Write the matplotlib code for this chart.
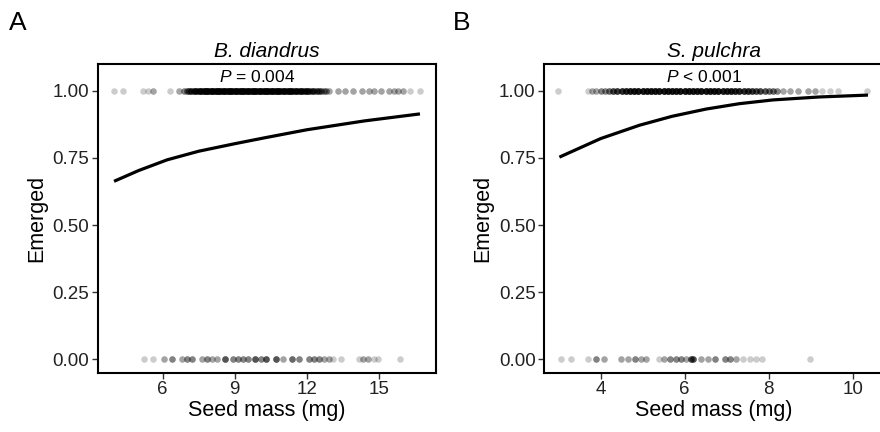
import numpy as np
import matplotlib
matplotlib.use('Agg')
import matplotlib.pyplot as plt

plt.rcParams['font.family'] = ['Liberation Sans', 'DejaVu Sans']
plt.rcParams['mathtext.fontset'] = 'custom'
plt.rcParams['mathtext.it'] = 'Liberation Sans:italic'
plt.rcParams['mathtext.rm'] = 'Liberation Sans'

# B. diandrus : seed mass of emerged (1) and not emerged (0) seeds, with counts
bd_top_x = [3.97, 4.34, 5.2, 5.4, 5.6, 6.3, 6.7,
            6.9, 7.0, 7.1, 7.2, 7.3, 7.4, 7.5, 7.6, 7.7, 7.8, 7.9,
            8.0, 8.1, 8.2, 8.3, 8.4, 8.5, 8.6, 8.7, 8.8, 8.9,
            9.0, 9.1, 9.2, 9.3, 9.4, 9.5, 9.6, 9.7, 9.8, 9.9,
            10.0, 10.1, 10.2, 10.3, 10.4, 10.5, 10.6, 10.7, 10.8, 10.9,
            11.0, 11.1, 11.2, 11.3, 11.4, 11.5, 11.6, 11.7, 11.8, 11.9,
            12.0, 12.1, 12.2, 12.3, 12.4, 12.5, 12.6, 12.7, 12.8, 12.9,
            13.3, 13.6, 13.9, 14.3, 14.6, 14.8, 15.1, 15.4, 15.6, 15.8,
            16.0, 16.3, 16.7]
bd_top_n = [1, 1, 1, 1, 2, 1, 2,
            3, 4, 5, 6, 7, 8, 8, 9, 9, 10, 10,
            10, 10, 10, 10, 10, 10, 10, 10, 10, 10,
            10, 10, 10, 10, 10, 10, 10, 10, 10, 10,
            10, 10, 10, 10, 10, 10, 10, 10, 10, 9,
            9, 9, 9, 9, 9, 8, 8, 8, 8, 7,
            7, 6, 6, 5, 5, 4, 4, 3, 3, 2,
            2, 2, 2, 2, 2, 2, 2, 2, 2, 2,
            2, 1, 1]
bd_bot_x = [5.23, 5.62, 6.05, 6.4, 6.81, 7.02, 7.22, 7.63, 7.84, 8.04, 8.25,
            8.59, 8.93, 9.14, 9.35, 9.55, 9.83, 10.1, 10.3, 10.72, 11.0, 11.4,
            11.68, 12.1, 12.3, 12.5, 12.7, 12.9, 13.1, 13.4, 14.15, 14.35,
            14.56, 14.77, 14.97, 15.86]
bd_bot_n = [1, 1, 2, 3, 2, 3, 3, 2, 3, 2, 2,
            5, 3, 3, 3, 3, 5, 3, 5, 5, 2, 4,
            3, 3, 3, 3, 2, 2, 1, 1, 1, 2,
            2, 1, 1, 1]
bd_curve_x = [3.98, 5.0, 6.19, 7.5, 9.0, 10.3, 12.0, 14.4, 16.7]
bd_curve_y = [0.663, 0.703, 0.743, 0.775, 0.803, 0.826, 0.855, 0.888, 0.914]

# S. pulchra
sp_top_x = [2.98, 3.7, 3.8, 3.9, 4.0, 4.1, 4.2, 4.3, 4.4, 4.5, 4.6, 4.7,
            4.8, 4.9, 5.0, 5.1, 5.2, 5.3, 5.4, 5.5, 5.6, 5.7, 5.8, 5.9,
            6.0, 6.1, 6.2, 6.3, 6.4, 6.5, 6.6, 6.7, 6.8, 6.9, 7.0, 7.1,
            7.2, 7.3, 7.4, 7.5, 7.6, 7.7, 7.8, 7.9, 8.0, 8.1, 8.2,
            8.33, 8.5, 8.7, 8.93, 9.1, 9.26, 9.45, 9.64, 10.33]
sp_top_n = [1, 1, 2, 2, 3, 3, 4, 6, 7, 8, 9, 10,
            11, 11, 11, 11, 11, 11, 11, 11, 11, 11, 11, 11,
            11, 11, 11, 11, 11, 11, 11, 11, 11, 10, 10, 10,
            9, 9, 8, 8, 7, 6, 6, 5, 4, 4, 3,
            2, 2, 2, 2, 2, 1, 1, 1, 1]
sp_bot_x = [3.05, 3.29, 3.7, 3.9, 4.08, 4.49, 4.65, 4.81, 4.97, 5.09, 5.4,
            5.52, 5.64, 5.8, 5.92, 6.04, 6.16, 6.2, 6.4, 6.55, 6.71, 6.95,
            7.07, 7.23, 7.39, 7.55, 7.7, 7.83, 8.98]
sp_bot_n = [1, 1, 1, 3, 2, 2, 2, 3, 2, 2, 1,
            2, 3, 3, 3, 2, 5, 5, 2, 2, 3, 3,
            3, 2, 1, 1, 1, 1, 1]
sp_curve_x = [3.02, 4.0, 4.93, 5.7, 6.51, 7.3, 8.1, 9.2, 10.36]
sp_curve_y = [0.753, 0.822, 0.872, 0.905, 0.932, 0.952, 0.966, 0.977, 0.984]

panels = [
    dict(letter='A', title='B. diandrus', ptxt='$P$ = 0.004',
         top=(bd_top_x, bd_top_n), bot=(bd_bot_x, bd_bot_n),
         curve=(bd_curve_x, bd_curve_y), xlim=(3.3, 17.35),
         xticks=[6, 9, 12, 15], pos=[0.111, 0.137, 0.384, 0.715], lx=0.010),
    dict(letter='B', title='S. pulchra', ptxt='$P$ < 0.001',
         top=(sp_top_x, sp_top_n), bot=(sp_bot_x, sp_bot_n),
         curve=(sp_curve_x, sp_curve_y), xlim=(2.65, 10.73),
         xticks=[4, 6, 8, 10], pos=[0.618, 0.137, 0.386, 0.715], lx=0.515),
]

fig = plt.figure(figsize=(8.8, 4.32), dpi=100)

for p in panels:
    ax = fig.add_axes(p['pos'])
    for (xs, ns), yv in [(p['top'], 1.0), (p['bot'], 0.0)]:
        xx = np.repeat(xs, ns)
        ax.scatter(xx, np.full(len(xx), yv), s=22, color='black',
                   alpha=0.2, linewidths=0, zorder=2)
    ax.plot(p['curve'][0], p['curve'][1], color='black', lw=2.3,
            solid_capstyle='butt', zorder=3)
    ax.set_xlim(*p['xlim'])
    ax.set_ylim(-0.05, 1.10)
    ax.set_xticks(p['xticks'])
    ax.set_yticks([0, 0.25, 0.5, 0.75, 1.0])
    ax.set_yticklabels(['0.00', '0.25', '0.50', '0.75', '1.00'])
    for s in ax.spines.values():
        s.set_linewidth(1.5)
        s.set_color('black')
    ax.tick_params(direction='out', length=4, width=1, color='#333333',
                   labelsize=13.5, labelcolor='#222222', pad=2)
    ax.set_xlabel('Seed mass (mg)', fontsize=15.5, labelpad=1)
    ax.set_ylabel('Emerged', fontsize=15.5, labelpad=4)
    ax.set_title(p['title'], fontsize=15, style='italic', pad=5)
    ax.text(0.473, 1.052, p['ptxt'], transform=ax.get_yaxis_transform(),
            fontsize=12.5, ha='center', va='center')
    fig.text(p['lx'], 0.975, p['letter'], fontsize=19, ha='left', va='top')

fig.savefig('out.png', dpi=100)
